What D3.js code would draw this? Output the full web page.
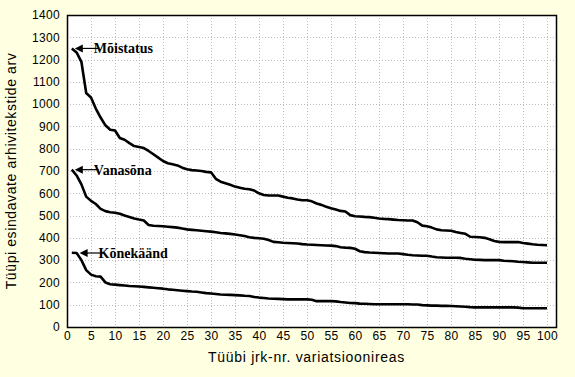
<!DOCTYPE html>
<html>
<head>
<meta charset="utf-8">
<script src="https://cdn.jsdelivr.net/npm/d3@7"></script>
<style>
  body { margin: 0; background: #ffffe1; }
  svg { display: block; }
</style>
</head>
<body>
<svg id="chart" width="575" height="377"></svg>
<script>
// values, rank 1..100
let moistatus = [1250, 1232, 1190, 1050, 1030, 980, 940, 905, 885, 882,
    848, 840, 825, 812, 808, 803, 790, 775, 760, 745,
    735, 730, 725, 715, 708, 704, 702, 700, 696, 694,
    665, 652, 645, 638, 630, 625, 620, 618, 612, 600,
    592, 590, 590, 590, 585, 580, 577, 572, 569, 569,
    564, 554, 548, 540, 533, 527, 521, 518, 502, 497,
    496, 494, 493, 490, 487, 485, 484, 482, 480, 479,
    478, 478, 470, 455, 452, 446, 438, 434, 433, 432,
    426, 422, 418, 405, 404, 403, 400, 394, 386, 382,
    381, 381, 381, 381, 377, 374, 371, 369, 368, 367]
let vanasona = [706, 680, 640, 585, 566, 552, 530, 520, 515, 513,
    508, 500, 494, 487, 482, 478, 458, 454, 453, 452,
    450, 448, 446, 442, 438, 436, 434, 432, 430, 428,
    425, 422, 420, 418, 415, 412, 408, 403, 400, 398,
    396, 390, 382, 380, 378, 377, 376, 375, 372, 370,
    369, 368, 367, 366, 365, 363, 358, 356, 355, 351,
    340, 336, 334, 333, 332, 331, 330, 330, 330, 327,
    324, 322, 321, 320, 320, 316, 313, 312, 311, 311,
    311, 310, 306, 304, 302, 301, 300, 300, 300, 300,
    297, 296, 295, 293, 292, 290, 288, 288, 288, 288]
let konekaand = [333, 332, 300, 255, 235, 228, 226, 200, 192, 190,
    188, 186, 184, 183, 182, 180, 178, 176, 174, 172,
    169, 167, 165, 163, 161, 159, 158, 155, 152, 150,
    148, 146, 145, 144, 143, 142, 140, 139, 135, 132,
    130, 128, 127, 126, 125, 124, 124, 124, 124, 124,
    122, 116, 116, 116, 116, 115, 112, 110, 108, 107,
    105, 104, 103, 102, 102, 102, 102, 102, 102, 102,
    102, 101, 101, 98, 97, 96, 96, 95, 95, 94,
    93, 92, 91, 89, 88, 88, 88, 88, 88, 88,
    88, 88, 88, 87, 84, 84, 84, 84, 84, 84]

let seriesNames = ["Mõistatus", "Vanasõna", "Kõnekäänd"]
let labelAt = [1, 1, 2]   // rank where each label's arrow points
let yTicks = d3.range(0, 1401, 100)
let xTicks = d3.range(0, 101, 5)

let svg = d3.select("#chart")
let plot = { left: 67, top: 15, right: 556, bottom: 327 }

let x = d3.scaleLinear().domain([0, 100]).range([plot.left, 547])
let y = d3.scaleLinear().domain([0, 1400]).range([plot.bottom, plot.top])

svg.append("rect")
    .attr("x", plot.left).attr("y", plot.top)
    .attr("width", plot.right - plot.left).attr("height", plot.bottom - plot.top)
    .attr("fill", "#ffffff")

// gridlines
let grid = svg.append("g")
    .attr("stroke", "#bcbcbc")
    .attr("stroke-dasharray", "1,2")
    .attr("stroke-width", 1)
grid.selectAll(".h")
    .data(yTicks.slice(1))
    .enter().append("line")
    .attr("x1", plot.left).attr("x2", plot.right)
    .attr("y1", d => Math.round(y(d)) + 0.5).attr("y2", d => Math.round(y(d)) + 0.5)
grid.selectAll(".v")
    .data(xTicks.slice(1))
    .enter().append("line")
    .attr("y1", plot.top).attr("y2", plot.bottom)
    .attr("x1", d => Math.round(x(d)) + 0.5).attr("x2", d => Math.round(x(d)) + 0.5)

// axes (labels only, no tick marks)
svg.append("g")
    .attr("transform", "translate(" + plot.left + ",0)")
    .call(d3.axisLeft(y).tickValues(yTicks).tickFormat(d3.format("d")).tickSize(0).tickPadding(7))
svg.append("g")
    .attr("transform", "translate(0," + plot.bottom + ")")
    .call(d3.axisBottom(x).tickValues(xTicks).tickFormat(d3.format("d")).tickSize(0).tickPadding(4))
svg.selectAll(".domain").remove()
svg.selectAll(".tick text")
    .attr("font-family", "'Liberation Sans', Arial, sans-serif")
    .attr("font-size", 12)
    .attr("letter-spacing", 0.3)
    .attr("fill", "#000")

// plot border
svg.append("rect")
    .attr("x", plot.left + 0.5).attr("y", plot.top + 0.5)
    .attr("width", plot.right - plot.left).attr("height", plot.bottom - plot.top)
    .attr("fill", "none")
    .attr("stroke", "#000")
    .attr("stroke-width", 1.5)

// lines
let line = d3.line()
    .x((d, i) => x(i + 1))
    .y(d => y(d))
let allSeries = [moistatus, vanasona, konekaand]
svg.selectAll(".series")
    .data(allSeries)
    .enter().append("path")
    .attr("class", "series")
    .attr("d", line)
    .attr("fill", "none")
    .attr("stroke", "#000")
    .attr("stroke-width", 2.6)
    .attr("stroke-linejoin", "round")

// arrow labels
let labels = svg.selectAll(".lbl")
    .data(seriesNames)
    .enter().append("g")
    .attr("class", "lbl")
    .attr("transform", (d, i) => {
        let px = x(labelAt[i]) + 3
        let py = y(allSeries[i][labelAt[i] - 1])
        return "translate(" + px + "," + py + ")"
    })
labels.append("line")
    .attr("x1", 6).attr("x2", 24)
    .attr("y1", 0).attr("y2", 0)
    .attr("stroke", "#000").attr("stroke-width", 1.2)
labels.append("path")
    .attr("d", "M0,0L8,-4L8,4Z")
    .attr("fill", "#000")
labels.append("text")
    .attr("x", 19).attr("y", 5)
    .attr("font-family", "'Liberation Serif', 'Times New Roman', serif")
    .attr("font-weight", "bold")
    .attr("font-size", 14)
    .text(d => d)

// axis titles
svg.append("text")
    .attr("x", (plot.left + plot.right) / 2 - 5)
    .attr("y", 362)
    .attr("text-anchor", "middle")
    .attr("font-family", "'Liberation Sans', Arial, sans-serif")
    .attr("font-size", 14)
    .attr("letter-spacing", 0.7)
    .text("Tüübi jrk-nr. variatsioonireas")
svg.append("text")
    .attr("transform", "translate(16," + ((plot.top + plot.bottom) / 2) + ") rotate(-90)")
    .attr("text-anchor", "middle")
    .attr("font-family", "'Liberation Sans', Arial, sans-serif")
    .attr("font-size", 14)
    .attr("letter-spacing", 0.6)
    .text("Tüüpi esindavate arhivitekstide arv")
</script>
</body>
</html>
